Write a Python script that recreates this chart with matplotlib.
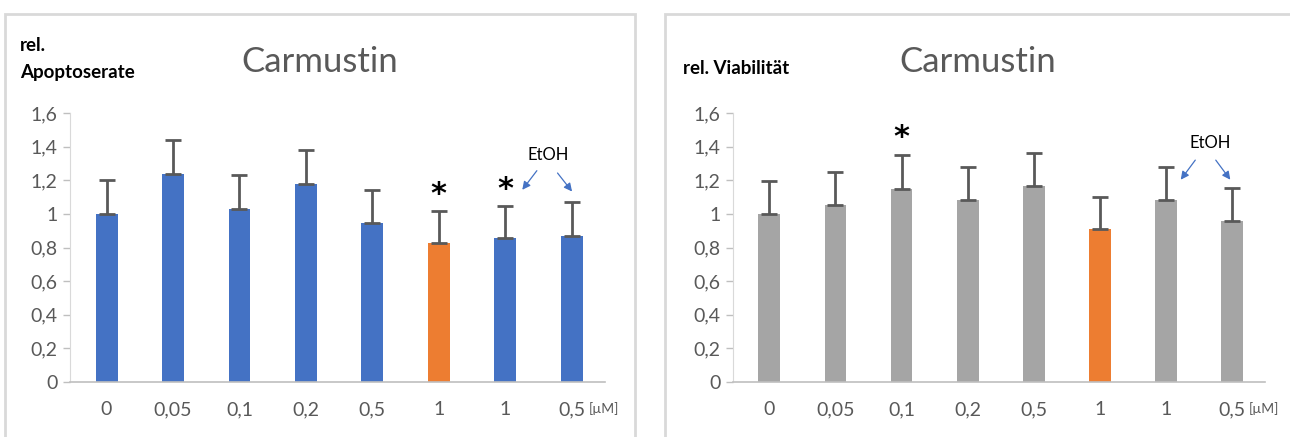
import matplotlib.pyplot as plt
from matplotlib.patches import Rectangle

plt.rcParams['font.family'] = ['Lato', 'DejaVu Sans']

doses = ['0', '0,05', '0,1', '0,2', '0,5', '1', '1', '0,5']

apo_mean = [1.0, 1.235, 1.03, 1.18, 0.945, 0.825, 0.855, 0.87]
apo_err = [0.2, 0.205, 0.2, 0.2, 0.195, 0.19, 0.19, 0.2]
apo_star = [5, 6]

via_mean = [1.0, 1.05, 1.145, 1.08, 1.165, 0.91, 1.08, 0.955]
via_err = [0.195, 0.2, 0.205, 0.2, 0.195, 0.19, 0.2, 0.2]
via_star = [2]

BLUE = '#4472C4'
ORANGE = '#ED7D31'
GREY = '#A5A5A5'
TXT = '#595959'

fig = plt.figure(figsize=(12.9, 4.37), dpi=100)

# panel frames
for x0, w in [(5, 630), (665, 640)]:
    fig.patches.append(Rectangle((x0 / 1290, -0.05), w / 1290, 1 - 14 / 437 + 0.05,
                                 transform=fig.transFigure, fill=False,
                                 edgecolor='#D9D9D9', linewidth=2))


def panel(rect, mean, err, base_color, stars, ylab, ylab_pos, title_x, arrows, etoh_xy):
    ax = fig.add_axes(rect)
    x = list(range(len(mean)))
    colors = [base_color] * len(mean)
    colors[5] = ORANGE
    ax.bar(x, mean, width=0.33, color=colors, zorder=2)
    ax.errorbar(x, mean, yerr=[[0] * len(err), err], fmt='none', ecolor=TXT,
                elinewidth=2, capsize=6, capthick=2, zorder=3)
    ax.set_ylim(0, 1.6)
    ax.set_xlim(-0.55, 7.5)
    ax.set_yticks([0, 0.2, 0.4, 0.6, 0.8, 1, 1.2, 1.4, 1.6])
    ax.set_yticklabels(['0', '0,2', '0,4', '0,6', '0,8', '1', '1,2', '1,4', '1,6'])
    ax.set_xticks(x)
    ax.set_xticklabels(doses)
    ax.tick_params(axis='y', colors='#BFBFBF', labelcolor=TXT, labelsize=14,
                   length=5, width=1, pad=4)
    ax.tick_params(axis='x', length=0, labelcolor=TXT, labelsize=14, pad=14)
    for s in ['top', 'right']:
        ax.spines[s].set_visible(False)
    ax.spines['left'].set_color('#D9D9D9')
    ax.spines['bottom'].set_color('#BFBFBF')
    ax.spines['bottom'].set_linewidth(1.2)

    ax.text(title_x, 1.19, 'Carmustin', transform=ax.transAxes, fontsize=25,
            color=TXT, ha='center', va='center')
    for i in stars:
        ax.annotate('*', (i, mean[i] + err[i]), xytext=(0, 2),
                    textcoords='offset points', ha='center', va='bottom',
                    fontsize=22, fontweight='bold', color='black',
                    family='DejaVu Sans')
    ax.text(etoh_xy[0], etoh_xy[1], 'EtOH', ha='center', va='center',
            fontsize=12, color='black')
    for start, end in arrows:
        ax.annotate('', xy=end, xytext=start,
                    arrowprops=dict(arrowstyle='-|>', color=BLUE, lw=0.9,
                                    mutation_scale=12))
    ax.text(7.25, -0.16, '[µM]', fontsize=10, color=TXT, ha='left', va='center')
    fig.text(ylab_pos[0], ylab_pos[1], ylab, fontsize=13.5, fontweight='bold',
             ha='left', va='center', linespacing=1.75)
    return ax


panel([70 / 1290, 1 - 382 / 437, 535 / 1290, 269 / 437],
      apo_mean, apo_err, BLUE, apo_star,
      'rel.\nApoptoserate', (20 / 1290, 1 - 59 / 437), 0.467,
      [((6.5, 1.27), (6.23, 1.13)), ((6.76, 1.256), (7.03, 1.12))],
      (6.65, 1.35))

panel([733 / 1290, 1 - 382 / 437, 532 / 1290, 269 / 437],
      via_mean, via_err, GREY, via_star,
      'rel. Viabilität', (683 / 1290, 1 - 68 / 437), 0.46,
      [((6.47, 1.333), (6.2, 1.19)), ((6.73, 1.333), (7.0, 1.19))],
      (6.67, 1.42))

fig.savefig('out.png', dpi=100)
